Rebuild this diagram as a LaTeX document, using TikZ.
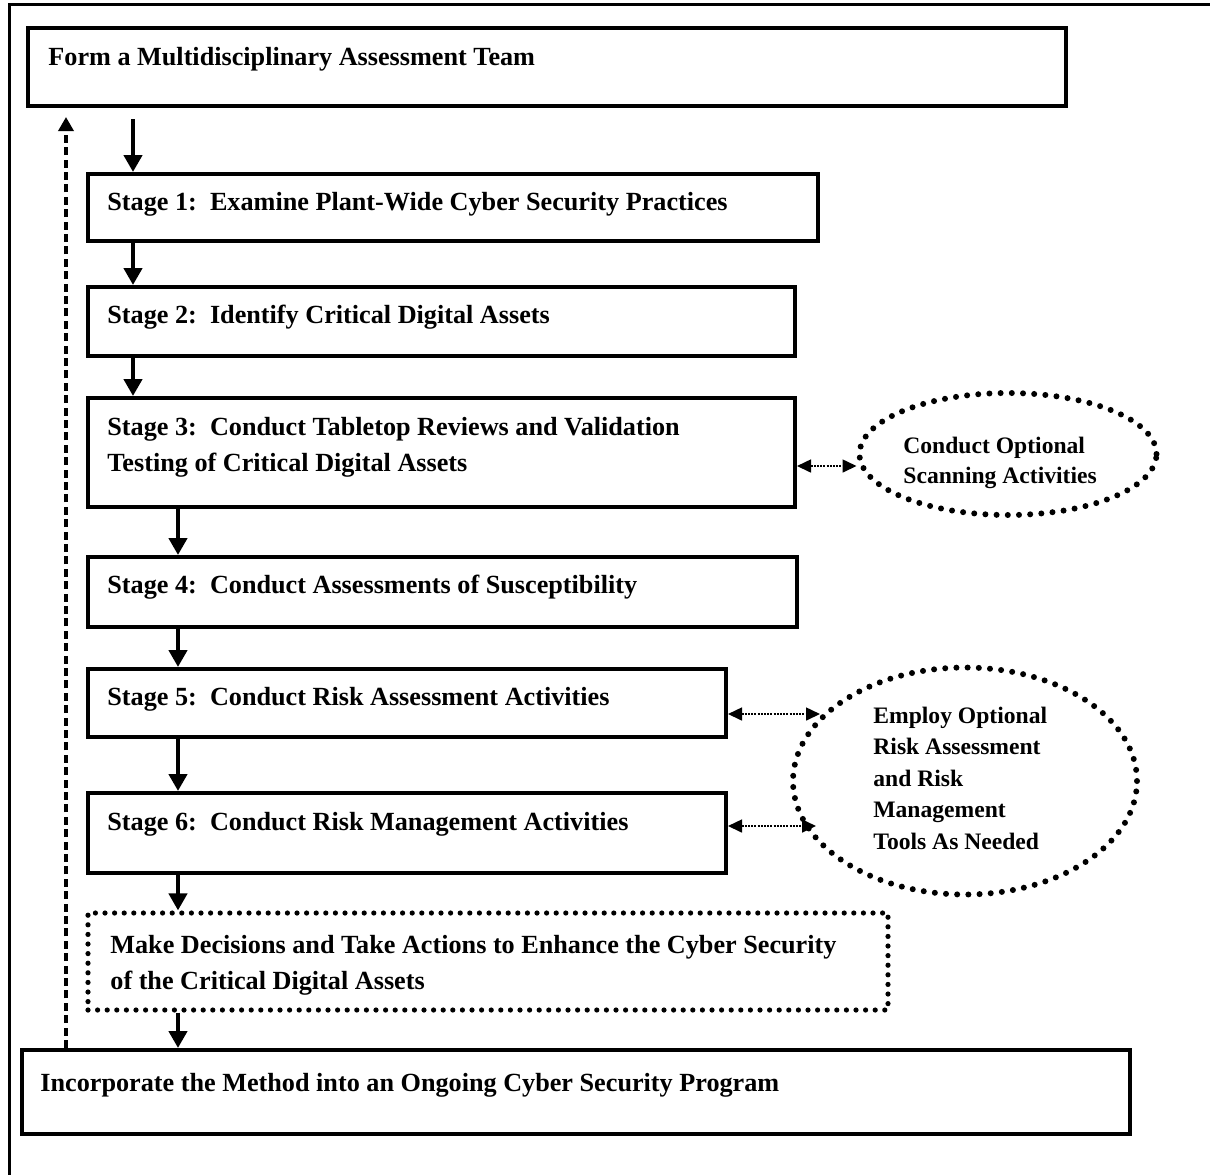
\documentclass[tikz,border=0pt]{standalone}
\usepackage{fontspec}
\setmainfont{Liberation Serif}
\usetikzlibrary{arrows.meta,shapes.geometric,fit}
\begin{document}
\begin{tikzpicture}[x=0.5pt,y=-0.5pt,
  box/.style={draw,line width=2pt,inner sep=0pt},
  dotbox/.style={draw,line width=2.6pt,line cap=round,dash pattern=on 0pt off 4.8pt,inner sep=0pt},
  dotell/.style={ellipse,draw,line width=3pt,line cap=round,dash pattern=on 0pt off 5.6pt,inner sep=0pt},
  lbl/.style={font=\fontsize{13.1}{18}\selectfont\bfseries,inner sep=0pt,align=left},
  elbl/.style={font=\fontsize{11.8}{15.8}\selectfont\bfseries,inner sep=0pt,align=left},
  flow/.style={line width=2.4pt,-{Triangle[width=9pt,length=8.5pt]}},
  fb/.style={line width=1.7pt,dash pattern=on 4pt off 2.2pt,-{Triangle[width=7.5pt,length=7pt]}},
  dbl/.style={line width=0.8pt,dash pattern=on 1pt off 0.6pt,{Triangle[width=6.5pt,length=7pt]}-{Triangle[width=6.5pt,length=7pt]}}
]
\useasboundingbox (0,0) rectangle (1210,1175);
% outer frame
\draw[line width=1.5pt] (8,4) -- (1210,4);
\draw[line width=1.5pt] (9,4) -- (9,1175);

% boxes
\node[box,fit={(28,28) (1066,106)}] (b0) {};
\node[box,fit={(88,174) (818,241)}] (s1) {};
\node[box,fit={(88,287) (795,356)}] (s2) {};
\node[box,fit={(88,398) (795,507)}] (s3) {};
\node[box,fit={(88,557) (797,627)}] (s4) {};
\node[box,fit={(88,669) (726,737)}] (s5) {};
\node[box,fit={(88,793) (726,873)}] (s6) {};
\node[dotbox,fit={(88,913) (888,1010)}] (dec) {};
\node[box,fit={(22,1050) (1130,1134)}] (inc) {};

% texts
\node[lbl,anchor=base west] (t0) at (48,65) {Form a Multidisciplinary Assessment Team};
\node[lbl,anchor=base west] (t1) at (107,210) {Stage 1:\ \ Examine Plant-Wide Cyber Security Practices};
\node[lbl,anchor=base west] (t2) at (107,323) {Stage 2:\ \ Identify Critical Digital Assets};
\node[lbl,anchor=base west] (t3a) at (107,435) {Stage 3:\ \ Conduct Tabletop Reviews and Validation};
\node[lbl,anchor=base west] (t3b) at (107,471) {Testing of Critical Digital Assets};
\node[lbl,anchor=base west] (t4) at (107,593) {Stage 4:\ \ Conduct Assessments of Susceptibility};
\node[lbl,anchor=base west] (t5) at (107,705) {Stage 5:\ \ Conduct Risk Assessment Activities};
\node[lbl,anchor=base west] (t6) at (107,830) {Stage 6:\ \ Conduct Risk Management Activities};
\node[lbl,anchor=base west] (tda) at (110,953) {Make Decisions and Take Actions to Enhance the Cyber Security};
\node[lbl,anchor=base west] (tdb) at (110,989) {of the Critical Digital Assets};
\node[lbl,anchor=base west] (ti) at (40,1091) {Incorporate the Method into an Ongoing Cyber Security Program};

% ellipses
\node[dotell,minimum width=148.5pt,minimum height=61pt] (e1) at (1008,454) {};
\node[elbl,anchor=base west] (e1a) at (903,453) {Conduct Optional};
\node[elbl,anchor=base west] (e1b) at (903,483) {Scanning Activities};
\node[dotell,minimum width=172pt,minimum height=113.5pt] (e2) at (965,781) {};
\node[elbl,anchor=base west] (e2a) at (873,723) {Employ Optional};
\node[elbl,anchor=base west] (e2b) at (873,754) {Risk Assessment};
\node[elbl,anchor=base west] (e2c) at (873,786) {and Risk};
\node[elbl,anchor=base west] (e2d) at (873,817) {Management};
\node[elbl,anchor=base west] (e2e) at (873,849) {Tools As Needed};

% flow arrows
\coordinate (xa) at (133,0);
\coordinate (xb) at (178,0);
\draw[flow,shorten <=5.5pt] (b0.south -| xa) -- (s1.north -| xa);
\draw[flow] (s1.south -| xa) -- (s2.north -| xa);
\draw[flow] (s2.south -| xa) -- (s3.north -| xa);
\draw[flow] (s3.south -| xb) -- (s4.north -| xb);
\draw[flow] (s4.south -| xb) -- (s5.north -| xb);
\draw[flow] (s5.south -| xb) -- (s6.north -| xb);
\draw[flow] (s6.south -| xb) -- (dec.north -| xb);
\draw[flow] (dec.south -| xb) -- (inc.north -| xb);

% feedback
\coordinate (xf) at (66,0);
\coordinate (fbtop) at (66,117);
\draw[fb] (inc.north -| xf) -- (fbtop);

% optional links
\coordinate (y3) at (0,466);
\coordinate (p5) at (820,714);
\coordinate (p6) at (816,826);
\draw[dbl] (s3.east |- y3) -- (e1.west |- y3);
\draw[dbl] (s5.east |- p5) -- (p5);
\draw[dbl] (s6.east |- p6) -- (p6);
\end{tikzpicture}
\end{document}
